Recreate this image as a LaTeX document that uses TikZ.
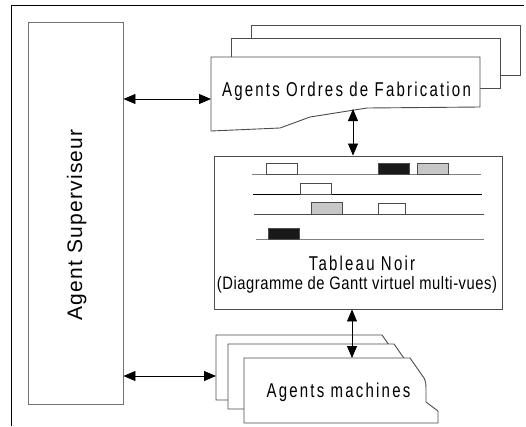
\documentclass[tikz,border=0pt]{standalone}
\usepackage{fontspec}
\setmainfont{Liberation Sans}
\newfontfamily\labfont[FakeStretch=0.75,LetterSpace=11]{Liberation Sans}
\newfontfamily\subfont[FakeStretch=0.82,LetterSpace=3]{Liberation Sans}
\newfontfamily\supfont[LetterSpace=6]{Liberation Sans}
\usetikzlibrary{arrows.meta}
\definecolor{boxc}{gray}{0.3}
\definecolor{supc}{gray}{0.45}
\definecolor{gfill}{gray}{0.78}
\definecolor{bfill}{gray}{0.1}
\tikzset{
  box/.style={draw=boxc,line width=0.9pt,fill=white},
  arr/.style={{Triangle[length=12pt,width=10pt]}-{Triangle[length=12pt,width=10pt]},line width=0.8pt,black},
  frame/.style={draw=black,line width=0.9pt},
  bigtxt/.style={inner sep=0,anchor=base,font=\labfont\fontsize{20}{23}\selectfont},
  gline/.style={line width=0.9pt},
  gbar/.style={draw=boxc,line width=0.8pt},
  mach/.pic={\draw[box] (0,0) -- (166,0) -- (180,20) .. controls (182,24) and (182,27) .. (182,30) -- (182,44) -- (194,53) -- (194,65) -- (0,65) -- cycle;}
}
\begin{document}
\begin{tikzpicture}[x=1pt,y=-1pt]
\useasboundingbox (0,0) rectangle (526,426);
\draw[frame] (11,426) -- (11,5) -- (524,5);

% supervisor
\node[box,draw=supc,minimum width=95,minimum height=382,inner sep=0] (sup) at (75.5,213) {};
\node[rotate=90,anchor=base,inner sep=0,font=\supfont\fontsize{21}{24}\selectfont] (suptxt) at (82,225) {Agent Superviseur};

% ordres de fabrication stack
\draw[box] (251,25) rectangle (520,75);
\draw[box] (231,38) rectangle (500,88);
\draw[box] (211,57) -- (480,57) -- (480,107) -- (367,108) -- (310,117) -- (280,128) -- (211,131) -- cycle;
\node[bigtxt] (oftxt) at (346.5,96.5) {Agents Ordres de Fabrication};
\coordinate (ofin) at (211,99);
\coordinate (ofout) at (353,109);

% tableau noir
\node[box,minimum width=288,minimum height=153,inner sep=0] (tab) at (358,232.5) {};
\draw[gline,draw=gray] (252,174) -- (481,174);
\draw[gline,draw=black] (253,194) -- (482,194);
\draw[gline,draw=black!70] (254,214) -- (484,214);
\draw[gline,draw=gray] (256,239) -- (484,239);
\draw[gbar,fill=white] (266,163) rectangle (297,174);
\draw[gbar,fill=bfill] (378,163) rectangle (409,174);
\draw[gbar,fill=gfill] (417,163) rectangle (448,174);
\draw[gbar,fill=white] (300,183) rectangle (331,194);
\draw[gbar,fill=gfill] (311,202) rectangle (342,214);
\draw[gbar,fill=white] (378,203) rectangle (405,214);
\draw[gbar,fill=bfill] (268,228) rectangle (299,239);
\node[bigtxt] (tabtxt) at (362,270) {Tableau Noir};
\node[inner sep=0,anchor=base,font=\subfont\fontsize{18}{20}\selectfont] (tabsub) at (357,289) {(Diagramme de Gantt virtuel multi-vues)};

% machines stack
\pic at (216,335) {mach};
\pic at (228,344) {mach};
\pic at (244,358) {mach};
\node[bigtxt] (machtxt) at (338.5,397) {Agents machines};
\coordinate (mtop) at (352,358);
\coordinate (min) at (216,376);

% connectors
\draw[arr] (sup.east |- ofin) -- (ofin);
\draw[arr] (ofout) -- (ofout |- tab.north);
\draw[arr] (tab.south -| mtop) -- (mtop);
\draw[arr] (sup.east |- min) -- (min);
\end{tikzpicture}
\end{document}
